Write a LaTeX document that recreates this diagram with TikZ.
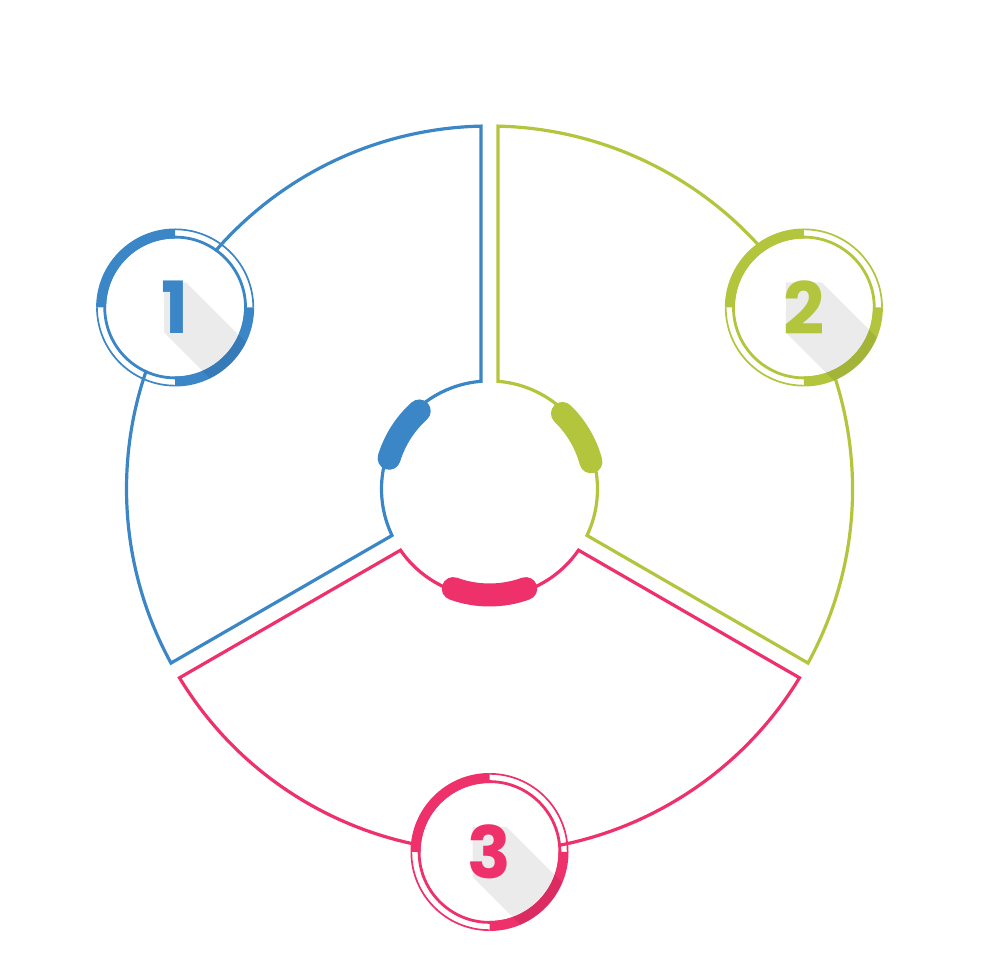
\documentclass[tikz,border=0pt]{standalone}
\usepackage{fontspec}
\newfontfamily\numfont{Poppins}
\definecolor{cblue}{HTML}{3B86C7}
\definecolor{cgreen}{HTML}{B3C43D}
\definecolor{cpink}{HTML}{EE306B}
\def\Ro{363}
\def\Ri{108}
\def\dO{1.342}
\def\dI{4.514}
\tikzset{
  secline/.style={line width=3.2pt, line join=miter},
  marker/.style={line width=23pt, line cap=round},
  digit/.style={inner sep=0pt, font=\numfont\bfseries\fontsize{72}{72}\selectfont}
}
% sector: colour, start angle, end angle
\newcommand\mysector[3]{%
  \draw[secline,#1] ({#2+\dI}:\Ri) -- ({#2+\dO}:\Ro)
    arc[start angle={#2+\dO}, end angle={#3-\dO}, radius=\Ro]
    -- ({#3-\dI}:\Ri)
    arc[start angle={#3-\dI}, end angle={#2+\dI}, radius=\Ri] -- cycle;}
% number badge: name, colour, angle, digit, half width of digit
\newcommand\numbadge[5]{%
  \begin{scope}[shift={(#3:\Ro)}]
    \fill[white] (0,0) circle[radius=69];
    \fill[#2] (90:79) arc[start angle=90,end angle=180,radius=79]
      -- (180:69) arc[start angle=180,end angle=90,radius=69] -- cycle;
    \fill[#2] (270:79) arc[start angle=270,end angle=360,radius=79]
      -- (0:69) arc[start angle=360,end angle=270,radius=69] -- cycle;
    \draw[#2,line width=2.8pt] (0,0) circle[radius=70.4];
    \draw[#2,line width=1.7pt] (0:78.15) arc[start angle=0,end angle=90,radius=78.15];
    \draw[#2,line width=1.7pt] (180:78.15) arc[start angle=180,end angle=270,radius=78.15];
    \begin{scope}
      \clip (0,0) circle[radius=79];
      \fill[black,opacity=0.08] (-#5,25) -- (#5,25) -- ({#5+140},{25-140})
        -- ({#5+140},{-25-140}) -- ({-#5+140},{-25-140}) -- (-#5,-25) -- cycle;
    \end{scope}
    \node[digit,text=#2] (#1) at (0,0) {#4};
  \end{scope}}
\begin{document}
\begin{tikzpicture}[x=1pt,y=1pt]
\useasboundingbox (0,0) rectangle (980,980);
\begin{scope}[shift={(489.5,491)}]
  \mysector{cblue}{90}{210}
  \mysector{cgreen}{-30}{90}
  \mysector{cpink}{210}{330}
  \draw[cblue,marker] (132:105) arc[start angle=132,end angle=163,radius=105];
  \draw[cgreen,marker] (15:105) arc[start angle=15,end angle=46,radius=105];
  \draw[cpink,marker] (250:106) arc[start angle=250,end angle=290,radius=106];
  \numbadge{n1}{cblue}{150}{1}{11}
  \numbadge{n2}{cgreen}{30}{2}{18}
  \numbadge{n3}{cpink}{270}{3}{17}
\end{scope}
\end{tikzpicture}
\end{document}
